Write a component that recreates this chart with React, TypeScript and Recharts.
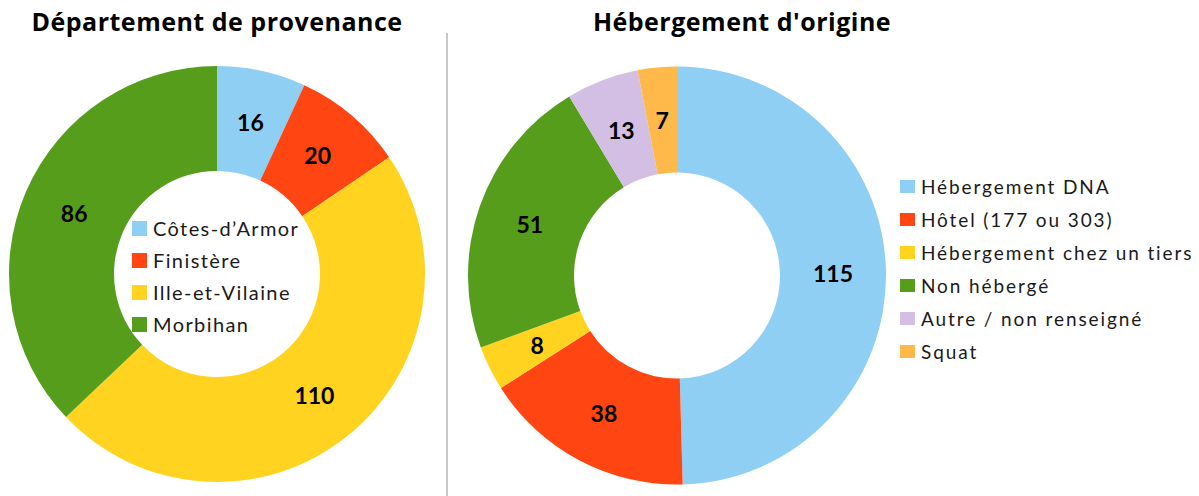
import React from 'react';
import { PieChart, Pie, Cell, Legend } from 'recharts';

const deptNames = ['Côtes-d’Armor', 'Finistère', 'Ille-et-Vilaine', 'Morbihan'];
const deptValues = [16, 20, 110, 86];
const deptColors = ['#8FCFF4', '#FF4512', '#FFD320', '#579D1C'];

const hebNames = [
  'Hébergement DNA',
  'Hôtel (177 ou 303)',
  'Hébergement chez un tiers',
  'Non hébergé',
  'Autre / non renseigné',
  'Squat',
];
const hebValues = [115, 38, 8, 51, 13, 7];
const hebColors = ['#8FCFF4', '#FF4512', '#FFD320', '#579D1C', '#D3BFE3', '#FFB84A'];

const FONT = 'Lato, "Open Sans", sans-serif';
const TITLE_FONT = '"Open Sans", Lato, sans-serif';
const RAD = Math.PI / 180;
const NO_MARGIN = { top: 0, right: 0, bottom: 0, left: 0 };

const deptData = deptNames.map((name, i) => ({ name, value: deptValues[i], fill: deptColors[i] }));
const hebData = hebNames.map((name, i) => ({ name, value: hebValues[i], fill: hebColors[i] }));

// value label placed in the middle of the ring
const renderLabel = (props: any) => {
  const { cx, cy, midAngle, innerRadius, outerRadius, value } = props;
  const r = (innerRadius + outerRadius) / 2;
  const x = cx + r * Math.cos(-midAngle * RAD);
  const y = cy + r * Math.sin(-midAngle * RAD);
  return (
    <text
      x={x}
      y={y}
      textAnchor="middle"
      dominantBaseline="central"
      fill="#000"
      style={{ fontFamily: FONT, fontWeight: 700, fontSize: 23 }}
    >
      {value}
    </text>
  );
};

// legend drawn in data order (recharts sorts by name otherwise)
const makeLegend = (names: string[], rowHeight: number, fontSize: number, spacing: number, boxH: number) => (props: any) => {
  const items = [...(props.payload || [])].sort(
    (a: any, b: any) => names.indexOf(a.value) - names.indexOf(b.value)
  );
  return (
    <div style={{ fontFamily: FONT, fontSize, color: '#1a1a1a', letterSpacing: spacing }}>
      {items.map((entry: any, i: number) => (
        <div key={i} style={{ display: 'flex', alignItems: 'center', height: rowHeight, whiteSpace: 'nowrap' }}>
          <span
            style={{
              display: 'inline-block',
              width: 15,
              height: boxH,
              background: entry.color,
              marginRight: 6,
            }}
          />
          <span>{entry.value}</span>
        </div>
      ))}
    </div>
  );
};

const titleStyle: React.CSSProperties = {
  position: 'absolute',
  top: 1,
  fontFamily: TITLE_FONT,
  fontWeight: 700,
  fontSize: 25,
  letterSpacing: 0.5,
  lineHeight: '40px',
  color: '#000',
  whiteSpace: 'nowrap',
  transform: 'translateX(-50%)',
};

export default function App() {
  return (
    <div style={{ position: 'absolute', left: 0, top: 0, width: 1199, height: 496, background: '#fff', overflow: 'hidden' }}>
      <div style={{ ...titleStyle, left: 217 }}>Département de provenance</div>
      <div style={{ ...titleStyle, left: 742 }}>Hébergement d'origine</div>
      <div style={{ position: 'absolute', left: 446, top: 33, width: 2, height: 463, background: '#c8c8c8' }} />

      <div style={{ position: 'absolute', left: 0, top: 0 }}>
        <PieChart width={440} height={496} margin={NO_MARGIN}>
          <Pie
            data={deptData}
            dataKey="value"
            nameKey="name"
            cx={217}
            cy={274}
            innerRadius={103}
            outerRadius={208}
            startAngle={90}
            endAngle={-270}
            stroke="none"
            label={renderLabel}
            labelLine={false}
            isAnimationActive={false}
          >
            {deptData.map((d, i) => (
              <Cell key={i} fill={deptColors[i]} />
            ))}
          </Pie>
          <Legend
            layout="vertical"
            content={makeLegend(deptNames, 32, 20, 1.4, 15)}
            wrapperStyle={{ position: 'absolute', left: 132, top: 212, width: 'auto' }}
          />
        </PieChart>
      </div>

      <div style={{ position: 'absolute', left: 450, top: 0 }}>
        <PieChart width={749} height={496} margin={NO_MARGIN}>
          <Pie
            data={hebData}
            dataKey="value"
            nameKey="name"
            cx={227}
            cy={275.5}
            innerRadius={103}
            outerRadius={209}
            startAngle={90}
            endAngle={-270}
            stroke="none"
            label={renderLabel}
            labelLine={false}
            isAnimationActive={false}
          >
            {hebData.map((d, i) => (
              <Cell key={i} fill={hebColors[i]} />
            ))}
          </Pie>
          <Legend
            layout="vertical"
            content={makeLegend(hebNames, 33, 19, 1.9, 13)}
            wrapperStyle={{ position: 'absolute', left: 450, top: 170, width: 'auto' }}
          />
        </PieChart>
      </div>
    </div>
  );
}
